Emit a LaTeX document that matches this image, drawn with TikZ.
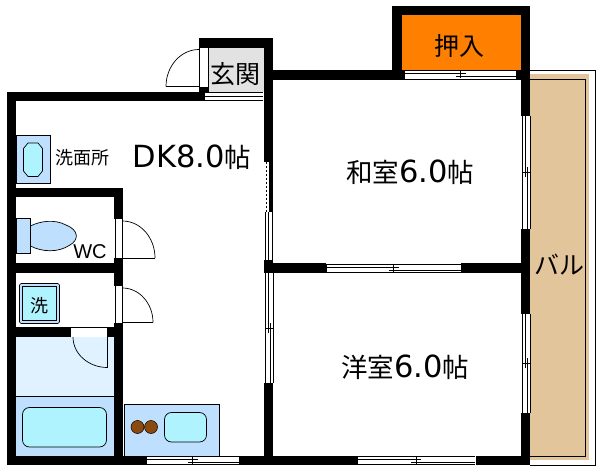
\documentclass[tikz,border=0pt]{standalone}
\usepackage{fontspec}
\setmainfont{Liberation Sans}
\newfontfamily\cjk{Noto Sans CJK JP}
\newfontfamily\lat{DejaVu Sans}
\newcommand{\bigtext}[3]{{\cjk\fontsize{26.5}{30}\selectfont #1}{\lat\fontsize{30.5}{30}\selectfont #2}{\cjk\fontsize{26.5}{30}\selectfont #3}}
\definecolor{tubblue}{HTML}{BFDFFF}
\definecolor{aqua}{HTML}{AFF3FF}
\definecolor{pale}{HTML}{E0F2FF}
\definecolor{tan}{HTML}{E3C59B}
\definecolor{orangeroom}{HTML}{FF8000}
\definecolor{entrygray}{HTML}{E2E2E2}
\definecolor{brownb}{HTML}{8B4A0E}
\tikzset{
 wall/.style={fill=black,draw=none},
 thin line/.style={draw=black,line width=0.7pt},
 fixture/.style={draw=black,line width=0.7pt,fill=tubblue},
 basin/.style={draw=black,line width=0.7pt,fill=aqua},
 label/.style={inner sep=0pt,text=black},
 mid/.style={label,font=\cjk\fontsize{25}{25}\selectfont},
 small/.style={label,font=\cjk\fontsize{18}{18}\selectfont},
 swing/.style={draw=black,line width=0.7pt}
}
\newcommand{\hwin}[4]{%
 \fill[white] (#1,#3) rectangle (#2,#3+9);
 \draw[thin line] (#1,#3) -- (#2,#3);
 \draw[thin line] (#1,#3+8.5) -- (#2,#3+8.5);
 \draw[thin line] (#1,#3+3) -- (#4+5,#3+3);
 \draw[thin line] (#4-5,#3+6) -- (#2,#3+6);
 \draw[thin line] (#1,#3) -- (#1,#3+8.5);
 \draw[thin line] (#4,#3+1) -- (#4,#3+8);
}
\newcommand{\vwin}[4]{%
 \fill[white] (#3,#1) rectangle (#3+8,#2);
 \draw[thin line] (#3,#1) -- (#3,#2);
 \draw[thin line] (#3+8,#1) -- (#3+8,#2);
 \draw[thin line] (#3+3,#1) -- (#3+3,#4+5);
 \draw[thin line] (#3+5.5,#4-5) -- (#3+5.5,#2);
 \draw[thin line] (#3,#4) -- (#3+8,#4);
}
\begin{document}
\begin{tikzpicture}[x=1pt,y=-1pt]
\useasboundingbox[fill=white] (0,0) rectangle (600,476);
% balcony
\draw[thin line] (530,70.5) -- (595,70.5) -- (595,465) -- (530,465);
\fill[tan] (530,74) rectangle (589,460);
\draw[thin line] (530,79.5) -- (585.5,79.5) -- (585.5,456.5) -- (530,456.5);
% closet and entry fills
\fill[orangeroom] (402,15) rectangle (521,70);
\fill[entrygray] (209,48) rectangle (264,92);
% fixtures
\draw[fixture] (16,135) rectangle (50.5,183.5);
\draw[basin] (28,143) -- (38,143) -- (42.5,148.5) -- (42.5,171) -- (38,176.5) -- (28,176.5) -- (23.5,171) -- (23.5,148.5) -- cycle;
\draw[fixture] (16,218.5) rectangle (30.5,253.5);
\draw[fixture] (30.5,226) .. controls (40,221) and (55,219) .. (66,225) .. controls (79,230) and (79,240) .. (70,245) .. controls (58,253) and (42,252) .. (30.5,246) -- cycle;
\draw[fixture,rounded corners=1.5pt] (19.5,283.5) rectangle (59.5,323.5);
\draw[basin] (22.5,286.5) rectangle (56.5,320.5);
\fill[pale] (16,337) rectangle (114,396);
\draw[fixture] (15,396.5) rectangle (114,456);
\draw[basin,rounded corners=7pt] (22.5,407.5) rectangle (106.5,447);
\draw[fixture] (124,404.5) rectangle (219.5,456);
\draw[basin,rounded corners=7pt] (164.5,412.5) rectangle (206.5,442);
\draw[draw=black,line width=0.5pt,fill=brownb] (137.5,427) circle (6.5);
\draw[draw=black,line width=0.5pt,fill=brownb] (151,427) circle (6.5);
% walls
\fill[wall] (7,92) rectangle (205,101);
\fill[wall] (7,92) rectangle (16,465);
\fill[wall] (199,38) rectangle (273,48);
\fill[wall] (199,87) rectangle (209,92);
\fill[wall] (264,38) rectangle (273,162);
\fill[wall] (269,162) rectangle (272.5,212);
\fill[wall] (273,70) rectangle (404,80);
\fill[wall] (392,6) rectangle (402,80);
\fill[wall] (392,6) rectangle (530,15);
\fill[wall] (521,6) rectangle (530,116);
\fill[wall] (516,70) rectangle (530,80);
\fill[wall] (521,229) rectangle (530,314);
\fill[wall] (521,413) rectangle (530,465);
\fill[wall] (264,260) rectangle (273,273);
\fill[wall] (264,263) rectangle (326,273);
\fill[wall] (461,263) rectangle (521,273);
\fill[wall] (264,383) rectangle (273,465);
\fill[wall] (7,456) rectangle (146,465);
\fill[wall] (239,456) rectangle (357,465);
\fill[wall] (476,456) rectangle (530,465);
\fill[wall] (16,188) rectangle (123,197);
\fill[wall] (114,188) rectangle (123,219);
\fill[wall] (114,258) rectangle (123,286);
\fill[wall] (16,263) rectangle (123,273);
\fill[wall] (114,323) rectangle (123,456);
\fill[wall] (16,327) rectangle (71,337);
\fill[wall] (108,327) rectangle (123,337);
% entry door and strip
\draw[thin line] (199,48) -- (199,87);
\draw[thin line] (208.5,48) -- (208.5,87);
\draw[swing] (199,49.5) arc[start angle=90,end angle=180,x radius=33,y radius=-37];
\draw[swing] (199,86.5) -- (166,86.5);
\fill[white] (205,92) rectangle (263.5,100.5);
\draw[thin line] (205,92.5) -- (263,92.5);
\draw[thin line] (205,96.5) -- (263,96.5);
\draw[thin line] (205,100.5) -- (263,100.5);
% DK windows
\draw[draw=black,line width=0.8pt,dash pattern=on 2pt off 2pt] (266,162) -- (266,212);
\fill[white] (265,212) rectangle (273,260);
\draw[thin line] (265,212) -- (265,260);
\draw[thin line] (272.5,212) -- (272.5,260);
\draw[thin line] (268,212) -- (268,260);
\vwin{273}{382.5}{265}{328}
\hwin{146}{239}{456}{192.5}
\hwin{357}{475}{456}{416}
\hwin{326}{461}{264}{393.5}
\hwin{404}{516}{70.5}{460.5}
\vwin{116}{229}{522}{172.5}
\vwin{314}{413}{522}{363}
% interior doors
\fill[white] (115,219) rectangle (123,258);
\draw[thin line] (115,219) -- (115,258);
\draw[thin line] (122.5,219) -- (122.5,258);
\draw[swing] (122.5,221) arc[start angle=90,end angle=0,x radius=32.5,y radius=-37];
\draw[swing] (122.5,258) -- (155,258);
\fill[white] (115,286) rectangle (123,323);
\draw[thin line] (115,286) -- (115,323);
\draw[thin line] (122.5,286) -- (122.5,323);
\draw[swing] (122.5,288) arc[start angle=90,end angle=0,x radius=30.5,y radius=-34.5];
\draw[swing] (122.5,322.5) -- (153,322.5);
\fill[white] (71,327) rectangle (108,336.5);
\draw[thin line] (71,327) -- (108,327);
\draw[swing] (107.5,327) -- (107.5,367.5);
\draw[swing] (73,337) arc[start angle=180,end angle=90,x radius=34.5,y radius=30.5];
% labels
\node[mid] (genkan) at (235.5,74) {玄関};
\node[mid] (oshiire) at (459.5,46) {押入};
\node[label] (dk) at (192,157) {\bigtext{}{DK8.0}{帖}};
\node[label] (washitsu) at (410,172) {\bigtext{和室}{6.0}{帖}};
\node[label] (yoshitsu) at (405,367) {\bigtext{洋室}{6.0}{帖}};
\node[small] (senmen) at (82,158) {洗面所};
\node[label,font=\fontsize{20}{20}\selectfont] (wc) at (90,252) {WC};
\node[small] (sen) at (39,306) {洗};
\node[mid] (baru) at (559.5,265) {バル};
\end{tikzpicture}
\end{document}
